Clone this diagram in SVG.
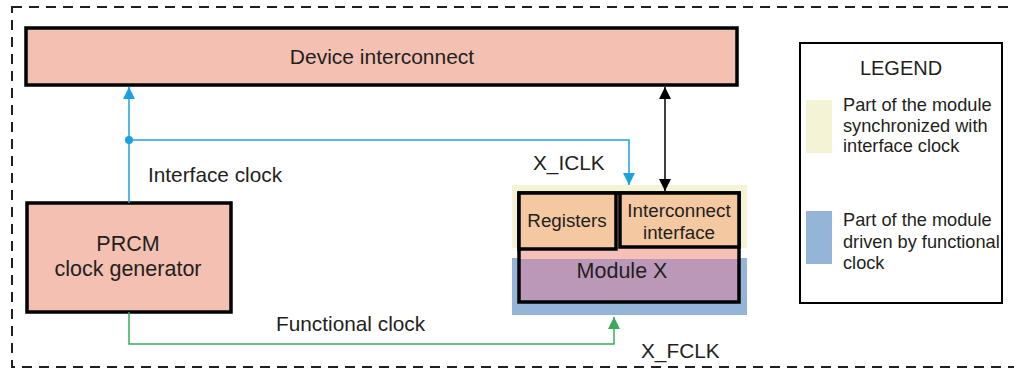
<svg xmlns="http://www.w3.org/2000/svg" width="1014" height="368" viewBox="0 0 1014 368">
<defs>
<style>
text{font-family:"Liberation Sans",Arial,sans-serif;fill:#231F20}
.box{stroke:#000;stroke-width:3.5}
.blue{stroke:#1BA1E2;stroke-width:1.5;fill:none}
.green{stroke:#3AAA5A;stroke-width:1.5;fill:none}
.blk{stroke:#000;stroke-width:1.5;fill:none}
.lg{font-size:18.2px}
</style>
<marker id="ab" viewBox="0 0 12 12" refX="12" refY="6" markerWidth="12" markerHeight="12" markerUnits="userSpaceOnUse" orient="auto"><path d="M0,0L12,6L0,12z" fill="#1BA1E2"/></marker>
<marker id="ag" viewBox="0 0 12 12" refX="12" refY="6" markerWidth="12" markerHeight="12" markerUnits="userSpaceOnUse" orient="auto"><path d="M0,0L12,6L0,12z" fill="#3AAA5A"/></marker>
<marker id="ak" viewBox="0 0 12 12" refX="12" refY="6" markerWidth="12" markerHeight="12" markerUnits="userSpaceOnUse" orient="auto"><path d="M0,0L12,6L0,12z" fill="#000"/></marker>
</defs>
<rect x="0" y="0" width="1014" height="368" fill="#fff"/>
<rect x="12" y="7" width="1020" height="360" fill="none" stroke="#231F20" stroke-width="2" stroke-dasharray="10 7"/>

<g id="device-interconnect">
<rect class="box" x="26" y="28" width="711" height="57" fill="#F4C0B2"/>
<text x="382" y="64" font-size="21" text-anchor="middle">Device interconnect</text>
</g>

<g id="prcm">
<rect class="box" x="27" y="203" width="204" height="109" fill="#F4C0B2"/>
<text x="128" y="251" font-size="21.5" text-anchor="middle">PRCM</text>
<text x="128" y="276" font-size="21.5" text-anchor="middle">clock generator</text>
</g>

<g id="module-x">
<rect x="512" y="185" width="235" height="63" fill="#F5F3D6"/>
<rect x="512" y="258" width="235" height="57" fill="#94B4D8"/>
<rect x="519" y="193" width="220" height="66" fill="#F4C0B8"/>
<rect x="519" y="259" width="220" height="43" fill="#BC98B8"/>
<rect class="box" x="519" y="193" width="220" height="109" fill="none"/>
<text x="622" y="278" font-size="21.5" text-anchor="middle">Module X</text>
</g>

<g id="registers">
<rect class="box" x="519" y="193" width="97" height="56" fill="#F4C8A0"/>
<text x="567" y="227" font-size="18.8" text-anchor="middle">Registers</text>
</g>

<g id="interconnect-interface">
<rect class="box" x="620" y="193" width="119" height="54" fill="#F4C8A0"/>
<text x="679" y="217" font-size="18.8" text-anchor="middle">Interconnect</text>
<text x="679" y="239" font-size="18.8" text-anchor="middle">interface</text>
</g>

<g id="legend">
<rect x="800" y="43" width="202" height="260" fill="#fff" stroke="#000" stroke-width="2"/>
<text x="901" y="75" font-size="20" text-anchor="middle">LEGEND</text>
<rect x="806" y="100" width="26" height="53" fill="#F5F3D6"/>
<text class="lg" x="843" y="111">Part of the module</text>
<text class="lg" x="843" y="132">synchronized with</text>
<text class="lg" x="843" y="152">interface clock</text>
<rect x="806" y="211" width="26" height="53" fill="#94B4D8"/>
<text class="lg" x="843" y="226">Part of the module</text>
<text class="lg" x="843" y="248">driven by functional</text>
<text class="lg" x="843" y="269">clock</text>
</g>

<g id="connectors">
<path class="blue" d="M129,203V87" marker-end="url(#ab)"/>
<circle cx="129" cy="140" r="4" fill="#1BA1E2"/>
<path class="blue" d="M129,140H629V185" marker-end="url(#ab)"/>
<path class="blk" d="M665,100V176"/>
<path class="blk" d="M665,100V87" marker-end="url(#ak)"/>
<path class="blk" d="M665,176V191" marker-end="url(#ak)"/>
<path class="green" d="M129,312V344H614V317" marker-end="url(#ag)"/>
<text x="148" y="182" font-size="20.8">Interface clock</text>
<text x="533" y="170" font-size="20.8">X_ICLK</text>
<text x="276" y="331" font-size="20.8">Functional clock</text>
<text x="641" y="358" font-size="20.8">X_FCLK</text>
</g>
</svg>
